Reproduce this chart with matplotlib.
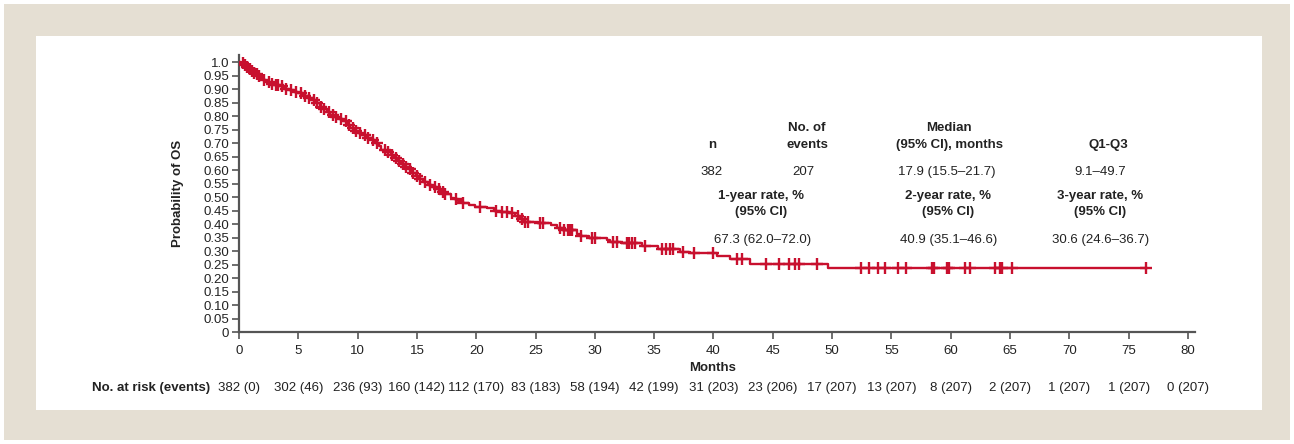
import numpy as np
import matplotlib.pyplot as plt
from matplotlib.patches import Rectangle

plt.rcParams['font.family'] = ['Liberation Sans', 'DejaVu Sans']

# KM step times (months) and survival after each step
step_months = [0.2, 0.4, 0.6, 0.8, 1.0, 1.2, 1.4, 1.6, 1.8, 2.0, 2.3, 2.6, 3.0, 3.4, 3.8,
               4.2, 4.6, 5.0, 5.4, 5.8, 6.2, 6.5, 6.8, 7.1, 7.4, 7.7, 8.0, 8.4, 8.8, 9.1,
               9.4, 9.7, 10.0, 10.4, 10.8, 11.2, 11.5, 11.8, 12.0, 12.4, 12.8, 13.1, 13.4,
               13.7, 14.0, 14.3, 14.6, 14.9, 15.2, 15.5, 15.9, 16.3, 16.7, 17.0, 17.4, 17.9,
               18.1, 18.5, 18.9, 19.4, 19.9, 20.9, 21.5, 22.0, 22.8, 23.3, 23.7, 24.0, 25.2,
               26.3, 26.8, 27.3, 28.5, 28.8, 29.5, 31.0, 31.3, 32.2, 34.0, 35.3, 37.2, 38.0,
               40.3, 41.4, 43.1, 49.7]
step_surv = [0.995, 0.99, 0.982, 0.975, 0.968, 0.96, 0.955, 0.948, 0.94, 0.933, 0.927, 0.92,
             0.915, 0.91, 0.90, 0.895, 0.89, 0.884, 0.875, 0.868, 0.858, 0.848, 0.835, 0.825,
             0.815, 0.805, 0.798, 0.79, 0.78, 0.768, 0.755, 0.745, 0.738, 0.728, 0.72, 0.71,
             0.70, 0.688, 0.673, 0.665, 0.655, 0.645, 0.635, 0.622, 0.612, 0.602, 0.59, 0.578,
             0.566, 0.555, 0.545, 0.538, 0.528, 0.52, 0.512, 0.497, 0.492, 0.485, 0.477, 0.47,
             0.463, 0.458, 0.45, 0.445, 0.44, 0.43, 0.42, 0.409, 0.403, 0.395, 0.385, 0.378,
             0.363, 0.355, 0.348, 0.34, 0.332, 0.328, 0.318, 0.306, 0.298, 0.292, 0.283, 0.27,
             0.253, 0.238]
last_followup = 76.5

censor_months = [0.3, 0.5, 0.7, 0.9, 1.1, 1.3, 1.5, 1.7, 2.1, 2.5, 2.8, 3.1, 3.3, 3.6, 4.0,
                 4.4, 4.8, 5.2, 5.6, 5.9, 6.3, 6.6, 6.9, 7.2, 7.6, 7.9, 8.2, 8.6, 9.0, 9.3,
                 9.6, 9.9, 10.2, 10.6, 10.9, 11.3, 11.6, 12.3, 12.6, 12.9, 13.2, 13.5, 13.8,
                 14.1, 14.4, 14.7, 15.0, 15.3, 15.7, 16.1, 16.5, 16.9, 17.2, 17.4, 18.3, 18.9,
                 20.3, 21.7, 22.2, 22.6, 23.0, 23.5, 23.9, 24.1, 24.4, 25.4, 25.6, 27.1, 27.4,
                 27.7, 27.9, 28.1, 28.8, 29.8, 30.0, 31.5, 31.9, 32.7, 32.9, 33.1, 33.4, 34.2,
                 35.7, 36.0, 36.3, 36.6, 37.4, 38.4, 40.0, 42.0, 42.4, 44.4, 45.5, 46.4, 46.9,
                 47.2, 48.7, 52.4, 53.1, 53.9, 54.5, 55.6, 56.2, 58.4, 58.6, 59.7, 59.9, 61.2,
                 61.6, 63.7, 64.2, 64.3, 65.2, 76.5]

risk_months = [0, 5, 10, 15, 20, 25, 30, 35, 40, 45, 50, 55, 60, 65, 70, 75, 80]
risk_labels = ['382 (0)', '302 (46)', '236 (93)', '160 (142)', '112 (170)', '83 (183)',
               '58 (194)', '42 (199)', '31 (203)', '23 (206)', '17 (207)', '13 (207)',
               '8 (207)', '2 (207)', '1 (207)', '1 (207)', '0 (207)']

y_ticks = [0, 0.05, 0.10, 0.15, 0.20, 0.25, 0.30, 0.35, 0.40, 0.45, 0.50, 0.55, 0.60,
           0.65, 0.70, 0.75, 0.80, 0.85, 0.90, 0.95, 1.0]
y_ticklabels = ['0', '0.05', '0.10', '0.15', '0.20', '0.25', '0.30', '0.35', '0.40', '0.45',
                '0.50', '0.55', '0.60', '0.65', '0.70', '0.75', '0.80', '0.85', '0.90',
                '0.95', '1.0']

RED = '#c8102e'
W, H = 1294, 444

fig = plt.figure(figsize=(W / 100, H / 100), dpi=100, facecolor='white')
# beige frame with white panel
fig.patches.append(Rectangle((4 / W, 4 / H), 1286 / W, 436 / H, transform=fig.transFigure,
                             facecolor='#e5dfd3', edgecolor='none', zorder=-2))
fig.patches.append(Rectangle((36 / W, 34 / H), 1226 / W, 374 / H, transform=fig.transFigure,
                             facecolor='white', edgecolor='none', zorder=-1))

ax = fig.add_axes([239 / W, 1 - 332 / H, (1195 - 239) / W, (332 - 55) / H])
ax.set_facecolor('none')

t = np.concatenate([[0], step_months, [last_followup]])
s = np.concatenate([[1.0], step_surv, [step_surv[-1]]])
ax.step(t, s, where='post', color=RED, lw=1.7, zorder=3)

# censor marks sit on the curve
idx = np.searchsorted(step_months, censor_months, side='right')
cs = np.concatenate([[1.0], step_surv])[idx]
ax.plot(censor_months, cs, ls='none', marker='+', ms=9, mew=1.7, color=RED, zorder=4)

ax.set_xlim(0, 80.6)
ax.set_ylim(0, 1.026)
ax.set_xticks(risk_months)
ax.set_yticks(y_ticks)
ax.set_yticklabels(y_ticklabels)
for side in ['top', 'right']:
    ax.spines[side].set_visible(False)
for side in ['left', 'bottom']:
    ax.spines[side].set_color('#555555')
    ax.spines[side].set_linewidth(1.6)
ax.tick_params(axis='both', colors='#555555', labelcolor='#222222', labelsize=9.5,
               length=5, width=1.2)
ax.tick_params(axis='y', pad=2)
ax.tick_params(axis='x', pad=4)

ax.set_ylabel('Probability of OS', fontsize=9.5, fontweight='bold', color='#222222', labelpad=14)
fig.text(713 / W, 1 - 368 / H, 'Months', ha='center', va='center', fontsize=9.5,
         fontweight='bold', color='#222222')

# number at risk row
fig.text(210 / W, 1 - 388 / H, 'No. at risk (events)', ha='right', va='center',
         fontsize=9.5, fontweight='bold', color='#222222')
risk_y = -(388 - 332) / (332 - 55)
for m, lab in zip(risk_months, risk_labels):
    ax.text(m, risk_y, lab, transform=ax.get_xaxis_transform(), ha='center', va='center',
            fontsize=9.5, color='#222222')

# summary table
def ftext(x, y, s, bold=False):
    fig.text(x / W, 1 - y / H, s, ha='center', va='center', fontsize=9.5,
             fontweight='bold' if bold else 'normal', color='#222222')

ftext(807, 128, 'No. of', True)
ftext(949, 128, 'Median', True)
ftext(712, 145, 'n', True)
ftext(807, 145, 'events', True)
ftext(949, 145, '(95% CI), months', True)
ftext(1108, 145, 'Q1-Q3', True)
ftext(712, 172, '382')
ftext(803, 172, '207')
ftext(947, 172, '17.9 (15.5\u201321.7)')
ftext(1100, 172, '9.1\u201349.7')
ftext(761, 196, '1-year rate, %', True)
ftext(948, 196, '2-year rate, %', True)
ftext(1100, 196, '3-year rate, %', True)
ftext(761, 212, '(95% CI)', True)
ftext(948, 212, '(95% CI)', True)
ftext(1100, 212, '(95% CI)', True)
ftext(763, 240, '67.3 (62.0\u201372.0)')
ftext(949, 240, '40.9 (35.1\u201346.6)')
ftext(1101, 240, '30.6 (24.6\u201336.7)')

fig.savefig('out.png', dpi=100, facecolor=fig.get_facecolor())
